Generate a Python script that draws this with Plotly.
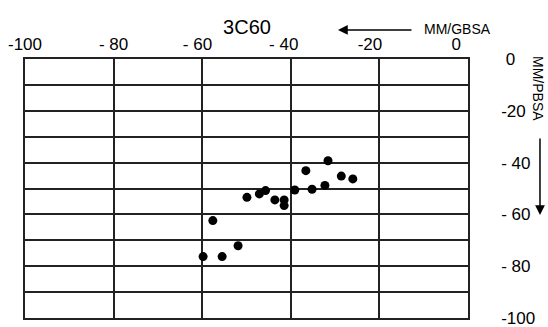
import plotly.graph_objects as go

# MM/GBSA (x) and MM/PBSA (y) values
gbsa = [-59.8, -55.5, -51.9, -57.6, -49.9, -47.1, -45.7, -43.6, -41.5, -41.5,
        -39.1, -36.6, -35.2, -32.3, -31.6, -28.6, -26.0]
pbsa = [-76.3, -76.3, -72.1, -62.4, -53.4, -52.1, -50.8, -54.4, -54.4, -56.6,
        -50.6, -43.1, -50.3, -48.8, -39.3, -45.2, -46.3]

NB = "\u00a0"
x_tickvals = [-100, -80, -60, -40, -20, 0]
x_ticktext = ["-100", "- 80", "- 60" + NB * 2, "- 40" + NB * 3, "-20" + NB * 4, "0" + NB * 5]
y_tickvals = [0, -10, -20, -30, -40, -50, -60, -70, -80, -90, -100]
y_ticktext = [NB + "0", "", "-20", "", "- 40", "", "- 60", "", "- 80", "", "-100"]

FONT = "Liberation Sans, Arial, sans-serif"
fig = go.Figure(go.Scatter(x=gbsa, y=pbsa, mode="markers",
                           marker=dict(color="black", size=9)))

fig.update_layout(
    width=548, height=327,
    margin=dict(l=25, r=80, t=59, b=9, autoexpand=False),
    plot_bgcolor="white", paper_bgcolor="white",
    showlegend=False,
    font=dict(family=FONT, color="black"),
    title=dict(text="3C60", x=247/548, xanchor="center", y=1-27/327, yanchor="middle",
               font=dict(size=20, family=FONT, color="black")),
    xaxis=dict(side="top", range=[-100, 0], tickvals=x_tickvals, ticktext=x_ticktext,
               showgrid=True, gridcolor="#222", gridwidth=1.5, zeroline=False,
               showline=True, linecolor="#222", linewidth=1.5, mirror=True,
               automargin=False, ticklabeloverflow="allow",
               ticks="", tickfont=dict(size=17, family=FONT, color="black")),
    yaxis=dict(side="right", range=[-100, 0], tickvals=y_tickvals, ticktext=y_ticktext,
               showgrid=True, gridcolor="#222", gridwidth=1.5, zeroline=False,
               showline=True, linecolor="#222", linewidth=1.5, mirror=True,
               automargin=False, ticklabeloverflow="allow",
               ticks="", ticklabelstandoff=28,
               tickfont=dict(size=17, family=FONT, color="black")),
    annotations=[
        dict(xref="paper", yref="paper", x=0.977, y=1.116, text="MM/GBSA",
             xanchor="center", yanchor="middle",
             showarrow=False, font=dict(size=14, family=FONT, color="black")),
        dict(xref="paper", yref="paper", x=0.7065, y=1.112, text="",
             showarrow=True, ax=75, ay=0, arrowhead=2, arrowsize=1.3,
             arrowwidth=1.5, arrowcolor="black"),
        dict(xref="paper", yref="paper", x=1.158, y=0.884, text="MM/PBSA",
             xanchor="center", yanchor="middle",
             textangle=90, showarrow=False,
             font=dict(size=14, family=FONT, color="black")),
        dict(xref="paper", yref="paper", x=1.1625, y=0.3977, text="",
             showarrow=True, ax=0, ay=-78, arrowhead=2, arrowsize=1.3,
             arrowwidth=1.5, arrowcolor="black"),
    ],
)

fig.write_html("out.html", config={"displayModeBar": False},
               post_script="document.body.style.margin='0';")
